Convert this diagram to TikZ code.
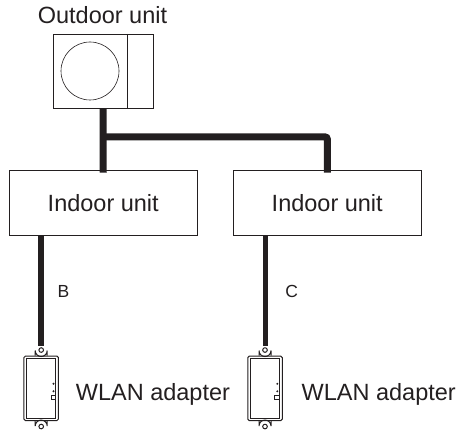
\documentclass[tikz,border=0pt]{standalone}
\usepackage{fontspec}
\setmainfont{Liberation Sans}
\usetikzlibrary{calc,positioning}
\definecolor{cableblack}{RGB}{35,31,32}
\tikzset{
  labeltext/.style={inner sep=0pt,text=cableblack,font=\fontsize{23.5}{26}\selectfont},
  smalltext/.style={inner sep=0pt,text=cableblack,font=\fontsize{17.5}{20}\selectfont},
  unitbox/.style={draw=cableblack,line width=0.8pt,labeltext},
  maincable/.style={cableblack,line width=7pt},
  branchcable/.style={cableblack,line width=5.2pt},
  adapterline/.style={cableblack,line width=1pt}
}
% Body, inner face, two lugs and three small marks of one adapter.
\newcommand{\wlanadapter}[2]{%
  \node[adapterline,draw,rounded corners=1.5pt,minimum width=34.5pt,minimum height=64.5pt,inner sep=0pt] (#1) at (#2,388.3) {};
  \draw[adapterline] ($(#1.north)+(-6,0)$) -- ++(0,-5) arc[start angle=180,end angle=0,radius=6] -- ++(0,5);
  \draw[adapterline] ($(#1.south)+(-6,0)$) -- ++(0,5) arc[start angle=180,end angle=360,radius=6] -- ++(0,-5);
  \draw[adapterline] ($(#1.north)+(0,-5.5)$) circle[radius=2.3];
  \draw[adapterline] ($(#1.south)+(0,5.5)$) circle[radius=2.3];
  \draw[adapterline] ($(#1.north west)+(3,3)$) rectangle ($(#1.south east)+(-3,-3)$);
  \fill[cableblack] ($(#1.center)+(12.3,-4.5)$) circle[radius=1.1];
  \fill[cableblack] ($(#1.center)+(12.3,3)$) circle[radius=1.1];
  \draw[cableblack,line width=0.7pt] ($(#1.center)+(9.7,7.5)$) rectangle ++(4.3,3.5);
}
\begin{document}
\begin{tikzpicture}[x=1pt,y=-1pt]
    \useasboundingbox (0,0) rectangle (464,433);
    \coordinate (branch) at (103.4,137);
    \coordinate (lugleft) at (41,346);
    \coordinate (lugright) at (265.3,346);
    \node[unitbox,minimum width=100pt,minimum height=74pt] (outdoor) at (103,71) {};
    \node[labeltext,anchor=base] (outdoorlabel) at (102.5,23.3) {Outdoor unit};
    \node[unitbox,minimum width=187.5pt,minimum height=64.5pt] (indoorleft) at (103.25,202.75) {Indoor unit};
    \node[unitbox,minimum width=187.5pt,minimum height=64.5pt] (indoorright) at (327.25,202.75) {Indoor unit};
    \draw[cableblack,line width=0.8pt] (127,34) -- (127,108);
    \node[draw=cableblack,circle,line width=0.6pt,minimum size=58pt,inner sep=0pt] (fan) at (90,71) {};
    \draw[maincable] (outdoor.south) -- ([yshift=-2.5pt]indoorleft.north);
    \draw[maincable,rounded corners=2pt] (branch) -| ([yshift=-2.5pt]indoorright.north);
    \draw[branchcable] (indoorleft.south -| lugleft) -- (lugleft) node[pos=0.51,right=14pt,smalltext] (labelb) {B};
    \draw[branchcable] (indoorright.south -| lugright) -- (lugright) node[pos=0.51,right=17.4pt,smalltext] (labelc) {C};
    \wlanadapter{adapterleft}{41.2}
    \wlanadapter{adapterright}{265}
    \node[labeltext,right=16.75pt of adapterleft.east,yshift=-6pt] (wlanleft) {WLAN adapter};
    \node[labeltext,right=18.75pt of adapterright.east,yshift=-6pt] (wlanright) {WLAN adapter};
  \end{tikzpicture}
\end{document}
